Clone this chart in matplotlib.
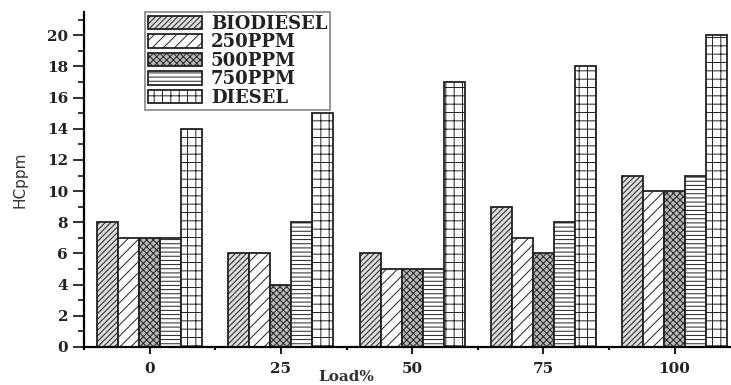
import matplotlib.pyplot as plt
import numpy as np
from matplotlib.ticker import MultipleLocator

# Load levels
loads = ['0', '25', '50', '75', '100']

# HC emissions (ppm)
biodiesel = [8, 6, 6, 9, 11]
ppm250 = [7, 6, 5, 7, 10]
ppm500 = [7, 4, 5, 6, 10]
ppm750 = [7, 8, 5, 8, 11]
diesel = [14, 15, 17, 18, 20]

series = [
    ('BIODIESEL', biodiesel, '#dcdcdc', '//////'),
    ('250PPM', ppm250, 'white', '///'),
    ('500PPM', ppm500, '#b8b8b8', 'xxxxx'),
    ('750PPM', ppm750, 'white', '----'),
    ('DIESEL', diesel, 'white', '++'),
]

plt.rcParams['hatch.linewidth'] = 0.7
plt.rcParams['hatch.color'] = '#444444'

fig = plt.figure(figsize=(7.31, 3.85), dpi=100)
ax = fig.add_axes([0.115, 0.099, 0.885, 0.87])

x = np.arange(len(loads))
width = 0.16
for i, (name, vals, fc, hatch) in enumerate(series):
    ax.bar(x + (i - 2) * width, vals, width, color=fc, edgecolor='#222222',
           hatch=hatch, linewidth=1.3, label=name)

ax.set_xlim(-0.5, 4.43)
ax.set_ylim(0, 21.5)
ax.set_xticks(x)
ax.set_xticklabels(loads)
ax.xaxis.set_minor_locator(MultipleLocator(0.5))
ax.yaxis.set_major_locator(MultipleLocator(2))
ax.yaxis.set_minor_locator(MultipleLocator(1))

for side in ['top', 'right']:
    ax.spines[side].set_visible(False)
ax.spines['left'].set_linewidth(1.6)
ax.spines['bottom'].set_linewidth(1.6)

ax.tick_params(axis='y', which='major', direction='out', length=8, width=1.3,
               labelsize=11, colors='#222222')
ax.tick_params(axis='y', which='minor', direction='out', length=4, width=1.1)
ax.tick_params(axis='x', which='major', direction='out', length=5, width=1.5,
               labelsize=11, pad=6, colors='#222222')
ax.tick_params(axis='x', which='minor', direction='out', length=2, width=1.5)
for lab in ax.get_xticklabels() + ax.get_yticklabels():
    lab.set_family('DejaVu Serif')
    lab.set_weight('bold')

ax.set_ylabel('HCppm', fontsize=11, family='Liberation Sans Narrow',
              color='#333333')
ax.yaxis.set_label_coords(-0.087, 0.5)
ax.set_xlabel('Load%', fontsize=11, family='DejaVu Serif', weight='bold',
              color='#333333')
ax.xaxis.set_label_coords(0.405, -0.07)

leg = ax.legend(loc='upper left', bbox_to_anchor=(0.094, 1.0),
                prop={'family': 'DejaVu Serif', 'size': 13, 'weight': 'bold'},
                fancybox=False, edgecolor='#666666', handlelength=3.0,
                handleheight=0.75, labelspacing=0.03, borderpad=0.15,
                handletextpad=0.5, borderaxespad=0, labelcolor='#222222')
leg.get_frame().set_linewidth(1.2)

plt.savefig('out.png', dpi=100)
plt.close()
